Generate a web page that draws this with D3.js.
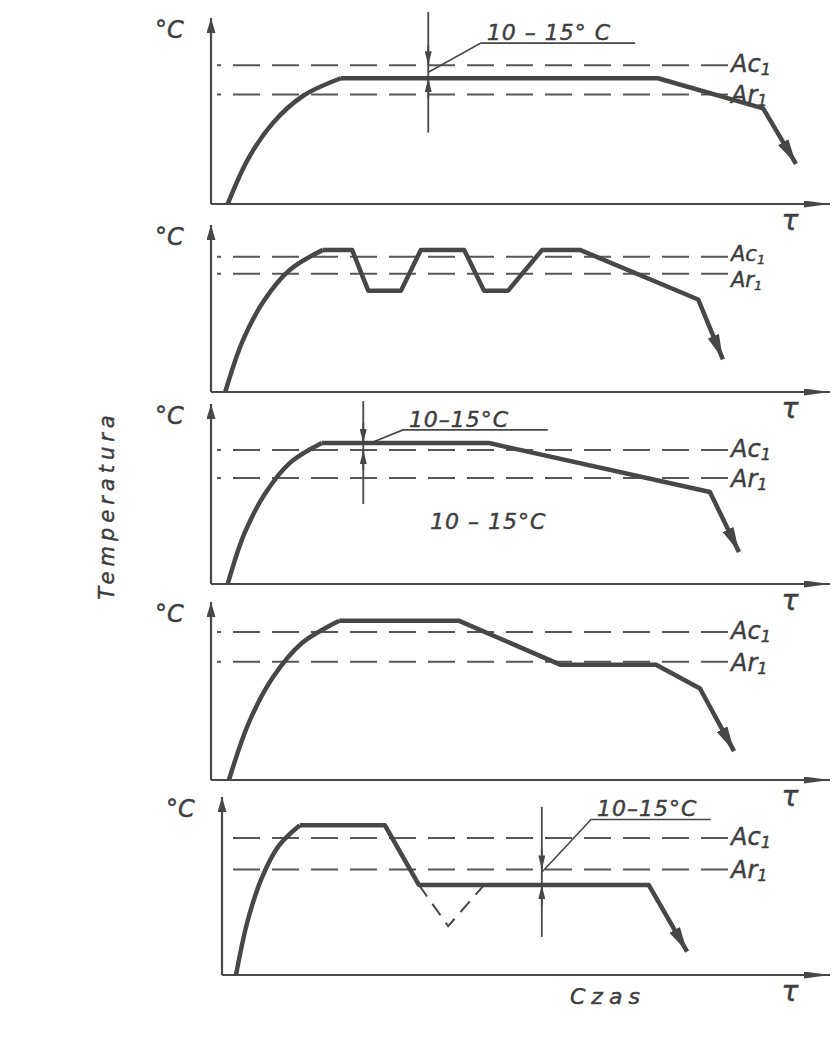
<!DOCTYPE html>
<html lang="pl">
<head>
    <meta charset="UTF-8">
    <title>Temperatura - Czas</title>
    <script src="https://cdn.jsdelivr.net/npm/d3@7/dist/d3.min.js"></script>
    <style>
        html, body {
            margin: 0;
            padding: 0;
            background: #ffffff;
            overflow: hidden;
        }
        svg {
            display: block;
        }
        .lbl {
            font-family: 'DejaVu Sans', sans-serif;
            font-style: italic;
            fill: #3e3e3e;
            stroke: #3e3e3e;
            stroke-width: 0.45px;
        }
    </style>
</head>
<body>

</body>
<script>
    // time 0-100 along each axis, temperature 0-100 up each axis
    let profile1 = [[2.7, 0], [6.0, 24.3], [10.0, 43.6], [14.9, 58.2], [21.0, 67.6],
        [72.2, 67.6], [89.2, 51.4], [94.5, 21.6]];
    let profile2 = [[2.3, 0], [5.1, 30.5], [8.6, 54.9], [12.8, 73.3], [18.1, 85.1],
        [22.8, 85.1], [25.4, 60.7], [30.7, 60.7], [33.9, 85.1], [40.9, 85.1],
        [44.1, 60.7], [48.0, 60.7], [53.5, 85.1], [59.6, 85.1], [78.7, 55.4], [82.7, 19.6]];
    let profile3 = [[2.7, 0], [5.4, 28.1], [8.8, 50.5], [12.8, 67.4], [17.9, 78.3],
        [44.9, 78.3], [80.6, 51.1], [85.3, 17.8]];
    let profile4 = [[2.9, 0], [6.1, 32.1], [10.0, 57.7], [14.7, 77.0], [20.7, 89.4],
        [40.1, 89.4], [56.4, 64.8], [71.9, 64.8], [79.0, 51.4], [84.5, 16.2]];
    let profile5 = [[2.3, 0], [4.2, 30.2], [6.5, 54.2], [9.3, 72.4], [12.8, 84.1],
        [26.8, 84.1], [32.4, 50.5], [70.2, 50.5], [76.5, 13.2]];
    let profiles = [profile1, profile2, profile3, profile4, profile5];
    // index where the curved heating part ends
    let heatEnd = [4, 4, 4, 4, 4];

    // critical temperatures
    let ac1 = [74.6, 81.0, 74.4, 83.2, 76.9];
    let ar1 = [58.9, 70.8, 58.9, 66.5, 59.3];

    // dashed dip in the last panel
    let dip5 = [[32.4, 50.5], [37.2, 27.5], [43.1, 50.5]];

    // 10-15°C dimensions: line at time t, from/to, arrow tips
    let dims = [
        {t: 35.1, from: 103.2, to: 38.4, upper: 74.6, lower: 67.6},
        null,
        {t: 24.6, from: 101.7, to: 44.4, upper: 78.3, lower: 74.4},
        null,
        {t: 52.6, from: 94.5, to: 21.4, upper: 59.3, lower: 50.5}
    ];
    let leaders = [
        [[35.1, 70.8], [43.6, 86.5], [68.5, 86.5]],
        null,
        [[25.4, 77.8], [31.0, 85.6], [54.4, 85.6]],
        null,
        [[52.6, 57.7], [60.7, 87.4], [80.4, 87.4]]
    ];
    let dimText = ['10 – 15° C', null, '10–15°C', null, '10–15°C'];
    let note3 = {t: 35.4, temp: 30.6, text: '10 – 15°C'};

    // layout of the five stacked panels (pixels)
    let frames = [
        {x0: 211, y0: 204, top: 18},
        {x0: 211, y0: 392, top: 225},
        {x0: 211, y0: 584, top: 404},
        {x0: 211, y0: 780, top: 602},
        {x0: 222, y0: 975, top: 797}
    ];
    let xEnd = 830;
    let labelX = 731;
    let ink = '#474747';

    let svg = d3.select('body')
        .append('svg')
        .attr('width', 836)
        .attr('height', 1040);

    // arrow heads
    let defs = svg.append('defs');
    function marker(id, len, wid) {
        defs.append('marker')
            .attr('id', id)
            .attr('markerUnits', 'userSpaceOnUse')
            .attr('viewBox', `0 0 ${len} ${wid}`)
            .attr('refX', len)
            .attr('refY', wid / 2)
            .attr('markerWidth', len)
            .attr('markerHeight', wid)
            .attr('orient', 'auto')
            .append('path')
            .attr('d', `M0,0L${len},${wid / 2}L0,${wid}Z`)
            .attr('fill', ink);
    }
    marker('arrY', 15, 9);
    marker('arrX', 26, 7);
    marker('arrCurve', 25, 12);
    marker('arrDim', 14, 7);

    let line = d3.line();
    let arc = d3.line().curve(d3.curveCatmullRom.alpha(0.5));

    frames.forEach((f, i) => {
        let x = d3.scaleLinear().domain([0, 100]).range([f.x0, xEnd]);
        let y = d3.scaleLinear().domain([0, 100]).range([f.y0, f.top]);
        let g = svg.append('g').classed('panel', true);
        let pt = d => [x(d[0]), y(d[1])];

        // axes
        g.append('path')
            .attr('d', line([[x(0), y(0)], [x(0), y(100)]]))
            .attr('stroke', ink).attr('stroke-width', 2.2)
            .attr('marker-end', 'url(#arrY)');
        g.append('path')
            .attr('d', line([[x(0), y(0)], [x(100), y(0)]]))
            .attr('stroke', ink).attr('stroke-width', 2.2)
            .attr('marker-end', 'url(#arrX)');

        // Ac1 / Ar1 dashed levels (drawn from the label back to the axis)
        [ac1[i], ar1[i]].forEach(v => {
            g.append('path')
                .attr('d', line([[labelX - 3, y(v)], [x(0) + 6, y(v)]]))
                .attr('stroke', '#575757').attr('stroke-width', 2)
                .attr('stroke-dasharray', '27,12')
                .attr('fill', 'none');
        });
        // when the two levels are close, put Ac1 above its line and Ar1 below
        let tight = y(ar1[i]) - y(ac1[i]) < 20;
        let fs = tight ? 21 : 24;
        [['A', 'c', ac1[i], tight ? 4 : 7], ['A', 'r', ar1[i], tight ? 13 : 9]].forEach(l => {
            let t = g.append('text').classed('lbl', true)
                .attr('x', labelX).attr('y', y(l[2]) + l[3])
                .style('font-size', fs + 'px');
            t.append('tspan').text(l[0] + l[1]);
            t.append('tspan').attr('dy', 3).style('font-size', (fs - 8) + 'px').text('1');
        });

        // °C and τ
        g.append('text').classed('lbl', true)
            .attr('x', x(0) - 56).attr('y', y(100) + 20)
            .style('font-size', '24px')
            .text('°C');
        g.append('text').classed('lbl', true)
            .attr('x', 790).attr('y', y(0) + 26)
            .attr('text-anchor', 'middle')
            .style('font-size', '28px')
            .text('τ');

        // temperature profile
        let p = profiles[i];
        let k = heatEnd[i];
        g.append('path')
            .attr('d', arc(p.slice(0, k + 1).map(pt)))
            .attr('stroke', ink).attr('stroke-width', 4.5)
            .attr('fill', 'none');
        g.append('path')
            .attr('d', line(p.slice(k).map(pt)))
            .attr('stroke', ink).attr('stroke-width', 4.5)
            .attr('stroke-linejoin', 'round')
            .attr('fill', 'none')
            .attr('marker-end', 'url(#arrCurve)');

        // 10-15°C dimension
        let dm = dims[i];
        if (dm) {
            g.append('path')
                .attr('d', line([[x(dm.t), y(dm.from)], [x(dm.t), y(dm.to)]]))
                .attr('stroke', ink).attr('stroke-width', 1.8);
            g.append('path')
                .attr('d', line([[x(dm.t), y(dm.upper) - 20], [x(dm.t), y(dm.upper)]]))
                .attr('stroke', ink).attr('stroke-width', 1.8)
                .attr('marker-end', 'url(#arrDim)');
            g.append('path')
                .attr('d', line([[x(dm.t), y(dm.lower) + 20], [x(dm.t), y(dm.lower)]]))
                .attr('stroke', ink).attr('stroke-width', 1.8)
                .attr('marker-end', 'url(#arrDim)');
            let ld = leaders[i];
            g.append('path')
                .attr('d', line(ld.map(pt)))
                .attr('stroke', ink).attr('stroke-width', 1.6)
                .attr('fill', 'none');
            g.append('text').classed('lbl', true)
                .attr('x', x(ld[1][0]) + 6).attr('y', y(ld[1][1]) - 3)
                .style('font-size', '22px')
                .style('letter-spacing', '1px')
                .text(dimText[i]);
        }
    });

    // dashed dip (panel 5)
    let f5 = frames[4];
    let x5 = d3.scaleLinear().domain([0, 100]).range([f5.x0, xEnd]);
    let y5 = d3.scaleLinear().domain([0, 100]).range([f5.y0, f5.top]);
    svg.append('path')
        .attr('d', line(dip5.map(d => [x5(d[0]), y5(d[1])])))
        .attr('stroke', ink).attr('stroke-width', 2)
        .attr('stroke-dasharray', '14,9')
        .attr('fill', 'none');

    // note in panel 3
    let f3 = frames[2];
    let x3 = d3.scaleLinear().domain([0, 100]).range([f3.x0, xEnd]);
    let y3 = d3.scaleLinear().domain([0, 100]).range([f3.y0, f3.top]);
    svg.append('text').classed('lbl', true)
        .attr('x', x3(note3.t)).attr('y', y3(note3.temp))
        .style('font-size', '22px')
        .style('letter-spacing', '1px')
        .text(note3.text);

    // axis titles
    svg.append('text').classed('lbl', true)
        .attr('transform', 'translate(114,505) rotate(-90)')
        .attr('text-anchor', 'middle')
        .style('font-size', '21px')
        .style('letter-spacing', '5px')
        .text('Temperatura');
    svg.append('text').classed('lbl', true)
        .attr('x', 570).attr('y', 1004)
        .style('font-size', '22px')
        .style('letter-spacing', '6px')
        .text('Czas');
</script>
</html>
